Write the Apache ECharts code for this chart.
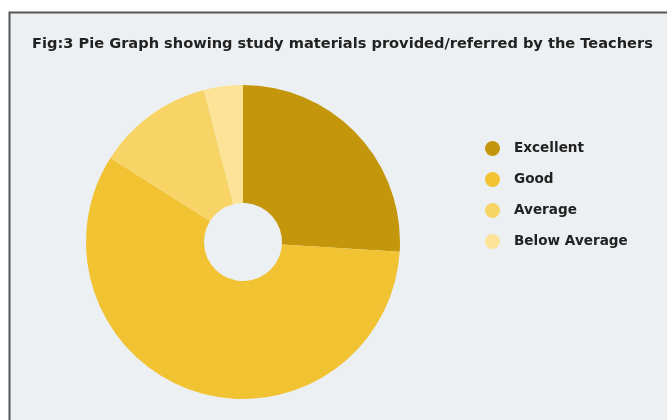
<!DOCTYPE html>
<html><head><meta charset="utf-8">
<script src="https://cdn.jsdelivr.net/npm/echarts@6/dist/echarts.min.js"></script>
<style>html,body{margin:0;padding:0;background:#fff}#c{width:667px;height:420px}</style>
</head><body><div id="c"></div>
<script>
const categories = ['Excellent', 'Good', 'Average', 'Below Average'];
const values = [26, 58, 12, 4];
const colors = ['#C4960C', '#F1C232', '#F8D466', '#FCE398'];
const titleText = 'Fig:3 Pie Graph showing study materials provided/referred by the Teachers';

const chart = echarts.init(document.getElementById('c'), null, {renderer: 'canvas'});
chart.setOption({
  backgroundColor: '#ffffff',
  animation: false,
  graphic: [{
    type: 'rect', z: -10, silent: true,
    shape: {x: 9.5, y: 12.5, width: 700, height: 440},
    style: {fill: '#ECF0F2', stroke: '#555', lineWidth: 2}
  }],
  title: {
    text: titleText, left: 27, top: 32,
    textStyle: {fontFamily: 'DejaVu Sans', fontSize: 14.6, fontWeight: 'bold', color: '#222'}
  },
  legend: {
    orient: 'vertical', left: 480, top: 136, itemGap: 16, itemWidth: 15, itemHeight: 15,
    icon: 'circle',
    data: categories,
    textStyle: {fontFamily: 'DejaVu Sans', fontSize: 13.6, fontWeight: 'bold', color: '#222', padding: [0,0,0,9]}
  },
  series: [{
    type: 'pie', center: [243, 242], radius: [39, 157],
    startAngle: 90, clockwise: true, label: {show: false}, labelLine: {show: false},
    itemStyle: {borderWidth: 0},
    data: categories.map((c, i) => ({name: c, value: values[i], itemStyle: {color: colors[i]}}))
  }]
});
</script></body></html>
